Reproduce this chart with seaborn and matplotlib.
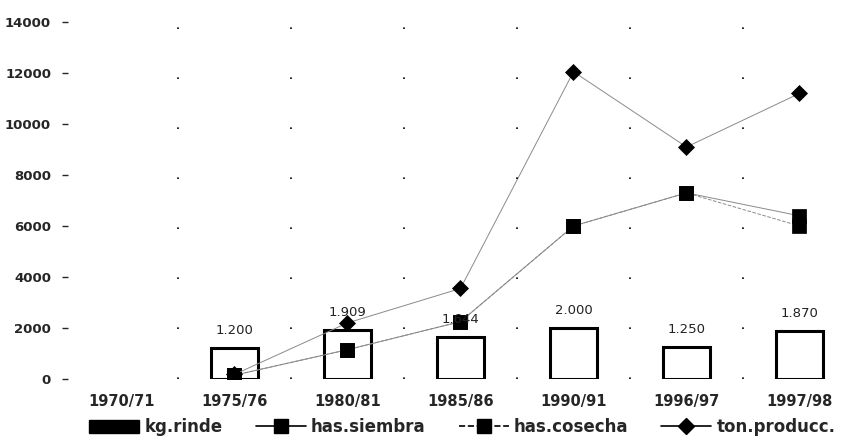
import numpy as np
import pandas as pd
import matplotlib
matplotlib.use('Agg')
import matplotlib.pyplot as plt
import seaborn as sns
from matplotlib.lines import Line2D
from matplotlib.patches import Patch

# Datos
campanas = ['1970/71', '1975/76', '1980/81', '1985/86', '1990/91', '1996/97', '1997/98']
kg_rinde = [np.nan, 1200, 1909, 1644, 2000, 1250, 1870]
has_siembra = [np.nan, 150, 1150, 2250, 6000, 7300, 6400]
has_cosecha = [np.nan, 150, 1150, 2250, 6000, 7300, 6000]
ton_producc = [np.nan, 180, 2200, 3550, 12050, 9100, 11200]

df = pd.DataFrame({'campana': campanas, 'kg.rinde': kg_rinde, 'has.siembra': has_siembra,
                   'has.cosecha': has_cosecha, 'ton.producc.': ton_producc})

sns.set_theme(style='white')
plt.rcParams['font.family'] = ['DejaVu Sans']

fig = plt.figure(figsize=(8.43, 4.36), dpi=100)
ax = fig.add_axes([0.0771, 0.1307, 0.9229, 0.8188])

# Barras huecas (rinde)
sns.barplot(data=df, x='campana', y='kg.rinde', order=campanas, color='white',
            edgecolor='black', linewidth=2.2, width=0.42, ax=ax)
for bar in ax.patches:
    h = bar.get_height()
    if np.isnan(h):
        continue
    ax.annotate(f'{h:,.0f}'.replace(',', '.'), (bar.get_x() + bar.get_width() / 2, h),
                xytext=(0, 8), textcoords='offset points', ha='center', va='bottom',
                fontsize=9.5, color='#222222')

# Lineas con marcadores
n_antes = len(ax.lines)
sns.pointplot(data=df, x='campana', y='has.cosecha', order=campanas, color='black',
              markers='s', linestyles='--', markersize=10, linewidth=0.7, ax=ax)
sns.pointplot(data=df, x='campana', y='has.siembra', order=campanas, color='black',
              markers='s', linestyles='-', markersize=10, linewidth=0.7, ax=ax)
sns.pointplot(data=df, x='campana', y='ton.producc.', order=campanas, color='black',
              markers='D', linestyles='-', markersize=8.5, linewidth=0.7, ax=ax)
for ln in ax.lines[n_antes:]:
    ln.set_color('#8a8a8a')
    ln.set_markerfacecolor('black')
    ln.set_markeredgecolor('black')

# Lineas punteadas entre campanas
for b in np.arange(0.5, len(campanas) - 1, 1):
    ax.axvline(b, color='black', linewidth=1.2, linestyle=(0, (1.0, 29.0)))

ax.set_ylim(0, 14000)
ax.set_xlim(-0.5, 6.385)
ax.set_yticks(range(0, 14001, 2000))
ax.set_xlabel('')
ax.set_ylabel('')
for s in ax.spines.values():
    s.set_visible(False)
ax.tick_params(axis='y', left=True, direction='inout', length=4, width=1, pad=8, labelsize=9.5)
ax.tick_params(axis='x', bottom=False, pad=5, labelsize=10.5)
for t in ax.get_xticklabels():
    t.set_fontweight('bold')
for t in ax.get_yticklabels():
    t.set_fontweight('bold')

handles = [
    Patch(facecolor='black', edgecolor='black'),
    Line2D([], [], color='black', marker='s', linestyle='-', markersize=10, linewidth=1.2),
    Line2D([], [], color='black', marker='s', linestyle='--', markersize=10, linewidth=1.2),
    Line2D([], [], color='black', marker='D', linestyle='-', markersize=8.5, linewidth=1.2),
]
fig.legend(handles, ['kg.rinde', 'has.siembra', 'has.cosecha', 'ton.producc.'],
           loc='lower left', bbox_to_anchor=(0.088, -0.035), ncol=4, frameon=False,
           prop={'weight': 'bold', 'size': 12}, handlelength=3.0, handleheight=0.8,
           handletextpad=0.3, columnspacing=2.0)

fig.savefig('out.png', dpi=100)
